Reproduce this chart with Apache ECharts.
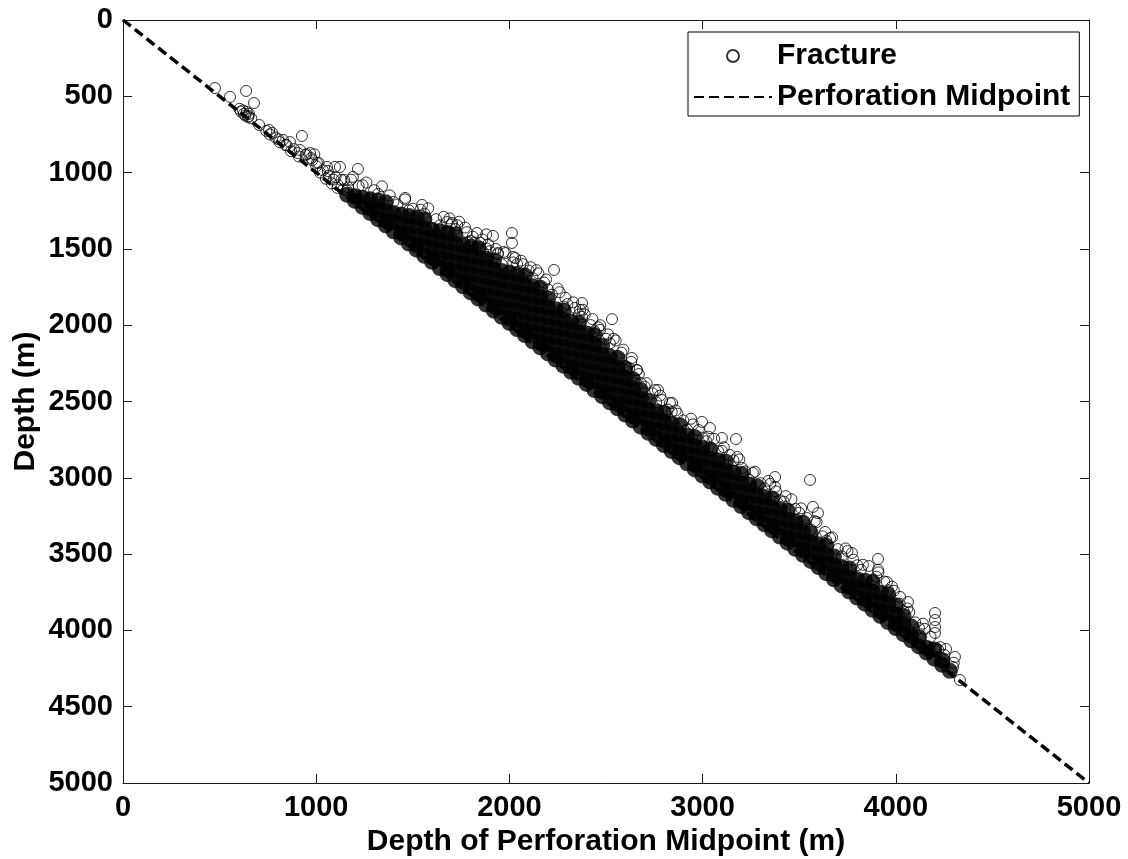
<!DOCTYPE html>
<html>
<head>
<meta charset="utf-8">
<script src="https://cdn.jsdelivr.net/npm/echarts@6/dist/echarts.min.js"></script>
<style>
html,body{margin:0;padding:0;background:#fff;}
#chart{width:1128px;height:859px;}
</style>
</head>
<body>
<div id="chart"></div>
<script>
// ---------- data ----------
const seriesNames = ['Fracture', 'Perforation Midpoint'];
const axisMin = 0, axisMax = 5000, axisStep = 500, xStep = 1000;

// perforation midpoint reference line (depth = perforation depth)
const lineX = [0, 5000];
const lineDepth = [0, 5000];

// sparse fractures, shallow end
const fractureSparse = [
 [476,446],[554,504],[637,465],[678,544],[603,582],[621,592],[640,603],[652,615],[633,626],[647,636],
 [664,645],[610,600],[625,615],[650,630],[705,688],[742,727],[756,721],[772,740],[760,750],[790,770],
 [805,782],[810,800],[828,786],[840,820],[864,800],[846,818],[870,860],[885,846],[905,872],[910,895],
 [916,852],[926,760],[945,885],[950,880],[968,872],[975,905],[980,918],[990,880],[1000,958],[1004,937],
 [1012,935],[1020,1000],[1035,985],[1050,1040],[1056,963],[1060,990],[1066,1020],[1080,1070],[1090,1046],
 [1097,963],[1100,1030],[1110,1100],[1112,1082],[1123,963],[1130,1048],[1145,1048],[1165,1098],[1190,1028],[1216,976]
];

// isolated fractures well above the main band
const fractureOutliers = [
 [1320,1140],[1460,1166],[1548,1212],[1677,1324],[1703,1330],[1786,1455],[1832,1396],[1863,1520],[1880,1405],
 [1915,1415],[1941,1527],[2013,1396],[2013,1461],[2019,1553],[2231,1638],[2376,1855],[2366,1900],[2376,1946],
 [2469,2031],[2531,1960],[2634,2215],[2660,2293],[2754,2425],[2769,2425],[2831,2510],[2842,2510],[2997,2634],
 [3038,2674],[3100,2739],[3173,2746],[3204,2936],[3375,2995],[3375,3060],[3556,3014],[3571,3191],[3597,3231],
 [3634,3355],[3773,3493],[3908,3532],[3908,3604],[3954,3683],[4022,3781],[4063,3814],[4203,3886],[4203,3932],
 [4203,3978],[4203,4017],[4306,4174],[4296,4240],[4332,4325],[4250,4160]
];

// fractures forming the ragged upper edge of the main band
const fractureEdge = [
 [1140,1110],[1180,1046],[1220,1088],[1260,1065],[1300,1115],[1340,1090],[1380,1149],[1420,1209],[1460,1176],[1500,1237],
 [1540,1243],[1580,1234],[1620,1305],[1660,1290],[1700,1340],[1740,1322],[1780,1390],[1820,1458],[1860,1438],[1900,1515],
 [1940,1535],[1980,1527],[2020,1589],[2060,1577],[2100,1642],[2140,1639],[2180,1721],[2220,1800],[2260,1784],[2300,1862],
 [2340,1886],[2380,1899],[2420,1999],[2460,2014],[2500,2089],[2540,2089],[2580,2180],[2620,2281],[2660,2295],[2700,2403],
 [2740,2446],[2780,2461],[2820,2553],[2860,2559],[2900,2624],[2940,2613],[2980,2687],[3020,2761],[3060,2745],[3100,2824],
 [3140,2850],[3180,2863],[3220,2958],[3260,2968],[3300,3035],[3340,3020],[3380,3089],[3420,3157],[3460,3141],[3500,3229],
 [3540,3264],[3580,3284],[3620,3383],[3660,3395],[3700,3467],[3740,3463],[3780,3537],[3820,3603],[3860,3578],[3900,3648],
 [3940,3680],[3980,3713],[4020,3826],[4060,3856],[4100,3947],[4140,3956],[4180,4042],[4220,4127],[4260,4122],[4300,4212],
 [1160,1118],[1240,1083],[1320,1168],[1400,1192],[1480,1247],[1560,1269],[1640,1345],[1720,1370],[1800,1447],[1880,1497],
 [1960,1601],[2040,1600],[2120,1691],[2200,1765],[2280,1878],[2360,1930],[2440,2039],[2520,2119],[2600,2267],[2680,2379],
 [2760,2505],[2840,2569],[2920,2684],[3000,2737],[3080,2825],[3160,2886],[3240,3011],[3320,3069],[3400,3146],[3480,3204],
 [3560,3339],[3640,3412],[3720,3515],[3800,3573],[3880,3668],[3960,3737],[4040,3873],[4120,3985],[4200,4122],
 [1690,1300],[1730,1345],[1770,1360],[1810,1420],[1850,1460],[1890,1470],[1930,1500],[1970,1520],[2030,1560],[2070,1600],
 [2110,1620],[2150,1660],[2190,1700],[2250,1760],[2290,1820],[2330,1850],[2390,1930],[2430,1960],[2470,2000],[2510,2060],
 [2550,2100],[2590,2160],[2630,2240],[2670,2320],[2710,2380],[2790,2490],[2870,2580],[2950,2650],[3030,2730],[3110,2800],
 [3190,2880],[3270,2960],[3350,3040],[3430,3120],[3510,3200],[3590,3290],[3670,3390],[3750,3480],[3830,3570],[3910,3620],
 [3990,3740],[4070,3880],[4150,3990],[4230,4110]
];

// densely packed fractures inside the band: perforation depth and the fracture depths read at it
const coreX = [1160,1200,1240,1280,1320,1360,1400,1440,1480,1520,1560,1600,1640,1680,1720,1760,1800,1840,1880,1920,
 1960,2000,2040,2080,2120,2160,2200,2240,2280,2320,2360,2400,2440,2480,2520,2560,2600,2640,2680,2720,
 2760,2800,2840,2880,2920,2960,3000,3040,3080,3120,3160,3200,3240,3280,3320,3360,3400,3440,3480,3520,
 3560,3600,3640,3680,3720,3760,3800,3840,3880,3920,3960,4000,4040,4080,4120,4160,4200,4240,4280];
const coreDepths = [
 [1145],[1185,1155],[1225,1165],[1265,1235,1175],[1305,1245,1185],[1345,1315,1255,1195],[1385,1325,1265],
 [1425,1395,1335,1275],[1465,1405,1345,1285],[1505,1475,1415,1355,1295],[1545,1485,1425,1365,1305],
 [1585,1555,1495,1435,1375],[1625,1565,1505,1445,1385],[1665,1635,1575,1515,1455,1395],[1705,1645,1585,1525,1465,1405],
 [1745,1715,1655,1595,1535,1475],[1785,1725,1665,1605,1545,1485],[1825,1795,1735,1675,1615,1555,1495],
 [1865,1805,1745,1685,1625,1565],[1905,1875,1815,1755,1695,1635,1575],[1945,1885,1825,1765,1705,1645],
 [1985,1955,1895,1835,1775,1715,1655],[2025,1965,1905,1845,1785,1725,1665],[2065,2035,1975,1915,1855,1795,1735,1675],
 [2105,2045,1985,1925,1865,1805,1745],[2145,2115,2055,1995,1935,1875,1815,1755],[2185,2125,2065,2005,1945,1885,1825],
 [2225,2195,2135,2075,2015,1955,1895],[2265,2205,2145,2085,2025,1965,1905],[2305,2275,2215,2155,2095,2035,1975],
 [2345,2285,2225,2165,2105,2045,1985],[2385,2355,2295,2235,2175,2115,2055],[2425,2365,2305,2245,2185,2125,2065],
 [2465,2435,2375,2315,2255,2195,2135],[2505,2445,2385,2325,2265,2205],[2545,2515,2455,2395,2335,2275,2215],
 [2585,2525,2465,2405,2345,2285],[2625,2595,2535,2475,2415,2355],[2665,2605,2545,2485,2425],
 [2705,2675,2615,2555,2495],[2745,2685,2625,2565],[2785,2755,2695,2635,2575],[2825,2765,2705,2645],
 [2865,2835,2775,2715,2655],[2905,2845,2785,2725],[2945,2915,2855,2795,2735],[2985,2925,2865,2805],
 [3025,2995,2935,2875,2815],[3065,3005,2945,2885],[3105,3075,3015,2955,2895],[3145,3085,3025,2965],
 [3185,3155,3095,3035,2975],[3225,3165,3105,3045],[3265,3235,3175,3115,3055],[3305,3245,3185,3125],
 [3345,3315,3255,3195,3135],[3385,3325,3265,3205],[3425,3395,3335,3275,3215],[3465,3405,3345,3285],
 [3505,3475,3415,3355,3295],[3545,3485,3425,3365],[3585,3555,3495,3435],[3625,3565,3505,3445],
 [3665,3635,3575,3515],[3705,3645,3585],[3745,3715,3655,3595],[3785,3725,3665],[3825,3795,3735,3675],
 [3865,3805,3745,3685],[3905,3875,3815,3755],[3945,3885,3825,3765],[3985,3955,3895,3835],[4025,3965,3905],
 [4065,4035,3975],[4105,4045],[4145,4115],[4185,4125],[4225,4195],[4265]
];

// ---------- build ----------
const corePoints = [];
coreX.forEach((x, i) => coreDepths[i].forEach(d => corePoints.push([x, d])));
const ringPoints = fractureSparse.concat(fractureEdge, fractureOutliers);
const linePoints = lineX.map((x, i) => [x, lineDepth[i]]);

const FONT = 'Liberation Sans, Arial, Helvetica, sans-serif';
const axisColor = '#1a1a1a';

function axisCommon(extra) {
  return Object.assign({
    type: 'value', min: axisMin, max: axisMax,
    axisLine: { show: true, onZero: false, lineStyle: { color: axisColor, width: 1 } },
    axisTick: { show: true, inside: true, length: 9, lineStyle: { color: axisColor, width: 1 } },
    splitLine: { show: false },
    axisLabel: { show: false },
    nameMoveOverlap: false
  }, extra);
}

const labelStyle = { show: true, color: '#000', fontFamily: FONT, fontWeight: 'bold', fontSize: 29,
  formatter: v => String(v) };
const nameStyle = { color: '#000', fontFamily: FONT, fontWeight: 'bold', fontSize: 30 };

const option = {
  animation: false,
  backgroundColor: '#fff',
  grid: { left: 123, top: 20, right: 39, bottom: 76, containLabel: false, outerBoundsMode: 'none' },
  xAxis: [
    axisCommon({ position: 'bottom', interval: xStep,
      axisLabel: Object.assign({ margin: 10 }, labelStyle),
      name: 'Depth of Perforation Midpoint (m)', nameLocation: 'middle', nameGap: 44, nameTextStyle: nameStyle }),
    axisCommon({ position: 'top', interval: xStep })
  ],
  yAxis: [
    axisCommon({ position: 'left', inverse: true, interval: axisStep,
      axisLabel: Object.assign({ margin: 10 }, labelStyle),
      name: 'Depth (m)', nameLocation: 'middle', nameGap: 82, nameRotate: 90, nameTextStyle: nameStyle }),
    axisCommon({ position: 'right', inverse: true, interval: axisStep })
  ],
  legend: {
    data: seriesNames,
    orient: 'vertical',
    left: 688, top: 32,
    padding: [9, 9, 4, 5],
    itemGap: 11,
    itemWidth: 78, itemHeight: 12,
    backgroundColor: '#fff',
    borderColor: '#000', borderWidth: 1, borderRadius: 0,
    textStyle: { color: '#000', fontFamily: FONT, fontWeight: 'bold', fontSize: 30 },
    selectedMode: false
  },
  series: [
    {
      name: seriesNames[0], type: 'scatter', xAxisIndex: 0, yAxisIndex: 0,
      symbol: 'circle', symbolSize: 11, silent: true,
      itemStyle: { color: 'rgba(0,0,0,0)', borderColor: '#000', borderWidth: 1 },
      data: ringPoints, z: 3
    },
    {
      name: seriesNames[0], type: 'scatter', xAxisIndex: 0, yAxisIndex: 0,
      symbol: 'circle', symbolSize: 16, silent: true,
      itemStyle: { color: '#000', borderWidth: 0 },
      data: corePoints, z: 2
    },
    {
      name: seriesNames[1], type: 'line', xAxisIndex: 0, yAxisIndex: 0,
      symbol: 'none', showSymbol: false, silent: true,
      itemStyle: { color: 'rgba(0,0,0,0)', borderWidth: 0 },
      lineStyle: { color: '#000', width: 3.5, type: [10, 5] },
      data: linePoints, z: 4
    }
  ]
};

const chart = echarts.init(document.getElementById('chart'), null, { renderer: 'canvas' });
chart.setOption(option);
</script>
</body>
</html>
